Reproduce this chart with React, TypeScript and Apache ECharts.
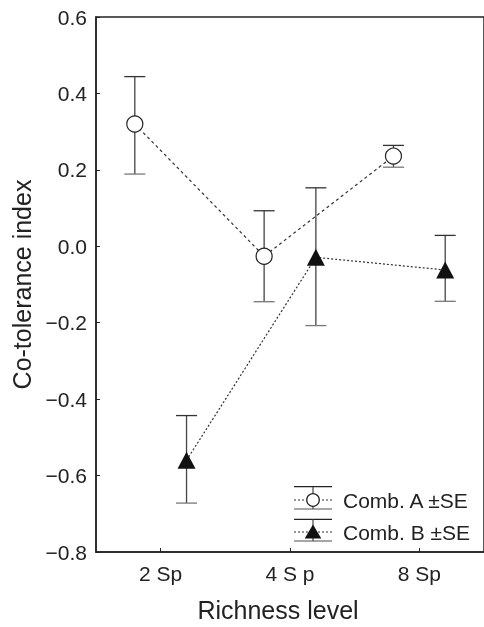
import React, { useEffect, useRef } from "react";
import * as echarts from "echarts";

const categories = ["2 Sp", "4 S p", "8 Sp"];
const combAMean = [0.32, -0.026, 0.236];
const combALow = [0.189, -0.145, 0.207];
const combAHigh = [0.444, 0.093, 0.264];
const combBMean = [-0.56, -0.029, -0.062];
const combBLow = [-0.672, -0.2075, -0.144];
const combBHigh = [-0.443, 0.153, 0.0285];
const yMin = -0.8;
const yMax = 0.6;
const yStep = 0.2;
const offsetA = -0.2;
const offsetB = 0.2;

const FONT = "Liberation Sans, Arial, Helvetica, sans-serif";

export default function App() {
  const ref = useRef<HTMLDivElement>(null);
  useEffect(() => {
    if (!ref.current) return;
    const chart = echarts.init(ref.current, undefined, { renderer: "svg" });
    const ptsA = combAMean.map((v, i) => [i + offsetA, v]);
    const ptsB = combBMean.map((v, i) => [i + offsetB, v]);
    const errA = combAMean.map((_, i) => [i + offsetA, combALow[i], combAHigh[i]]);
    const errB = combBMean.map((_, i) => [i + offsetB, combBLow[i], combBHigh[i]]);
    const capHalf = 10.5;
    const renderErr = (params: any, api: any) => {
      const x = api.value(0);
      const lo = api.coord([x, api.value(1)]);
      const hi = api.coord([x, api.value(2)]);
      return {
        type: "group",
        children: [
          { type: "line", shape: { x1: lo[0], y1: lo[1], x2: hi[0], y2: hi[1] }, style: { stroke: "#444", lineWidth: 1.3 } },
          { type: "line", shape: { x1: hi[0] - capHalf, y1: hi[1], x2: hi[0] + capHalf, y2: hi[1] }, style: { stroke: "#333", lineWidth: 1.3 } },
          { type: "line", shape: { x1: lo[0] - capHalf, y1: lo[1], x2: lo[0] + capHalf, y2: lo[1] }, style: { stroke: "#777", lineWidth: 1.3 } },
        ],
      };
    };
    const lx1 = 294, lx2 = 332, lcx = 313;
    const legendA = 500, legendB = 532;
    chart.setOption({
      animation: false,
      grid: { left: 96, top: 17, width: 392, height: 540, show: true, borderColor: "#222", borderWidth: 1.5, backgroundColor: "transparent" },
      xAxis: [
        {
          type: "category",
          data: categories,
          boundaryGap: true,
          axisLine: { show: true, onZero: false, lineStyle: { color: "#222", width: 1.5 } },
          axisTick: { show: true, inside: true, alignWithLabel: true, length: 4, lineStyle: { color: "#222" } },
          axisLabel: { fontSize: 21, color: "#222", margin: 11, fontFamily: FONT },
          splitLine: { show: false },
          name: "Richness level",
          nameLocation: "middle",
          nameGap: 45,
          nameTextStyle: { fontSize: 25, color: "#222", fontFamily: FONT, padding: [0, 24, 0, 0] },
        },
        { type: "value", min: -0.5, max: 2.5, show: false, axisLine: { show: false, onZero: false }, splitLine: { show: false } },
      ],
      yAxis: {
        type: "value",
        min: yMin,
        max: yMax,
        interval: yStep,
        axisLine: { show: true, onZero: false, lineStyle: { color: "#222", width: 1.5 } },
        axisTick: { show: true, inside: true, length: 4, lineStyle: { color: "#222" } },
        axisLabel: {
          fontSize: 21,
          color: "#222",
          margin: 9,
          fontFamily: FONT,
          formatter: (v: number) => (v < -1e-9 ? "\u2212" : "") + Math.abs(v).toFixed(1),
        },
        splitLine: { show: false },
        name: "Co-tolerance index",
        nameLocation: "middle",
        nameGap: 60,
        nameTextStyle: { fontSize: 25, color: "#222", fontFamily: FONT },
      },
      series: [
        { type: "custom", name: "errA", xAxisIndex: 1, data: errA, renderItem: renderErr, z: 1 },
        { type: "custom", name: "errB", xAxisIndex: 1, data: errB, renderItem: renderErr, z: 1 },
        {
          type: "line",
          name: "Comb. A ±SE",
          xAxisIndex: 1,
          data: ptsA,
          symbol: "circle",
          symbolSize: 16,
          lineStyle: { color: "#333", width: 1.2, type: [3, 3] },
          itemStyle: { color: "#fff", borderColor: "#222", borderWidth: 1.2 },
          z: 3,
        },
        {
          type: "line",
          name: "Comb. B ±SE",
          xAxisIndex: 1,
          data: ptsB,
          symbol: "triangle",
          symbolSize: [18, 17],
          lineStyle: { color: "#333", width: 1.2, type: [2, 2] },
          itemStyle: { color: "#111", borderColor: "#111", borderWidth: 0 },
          z: 4,
        },
      ],
      graphic: [
        { type: "line", shape: { x1: lx1, y1: 486.7, x2: lx2, y2: 486.7 }, style: { stroke: "#222", lineWidth: 1.3 } },
        { type: "line", shape: { x1: lx1, y1: 509, x2: lx2, y2: 509 }, style: { stroke: "#888", lineWidth: 1.3 } },
        { type: "line", shape: { x1: lcx, y1: 486.7, x2: lcx, y2: 509 }, style: { stroke: "#444", lineWidth: 1.2 } },
        { type: "line", shape: { x1: lx1, y1: legendA, x2: lx2, y2: legendA }, style: { stroke: "#333", lineWidth: 1.1, lineDash: [2, 2] } },
        { type: "circle", shape: { cx: lcx, cy: legendA, r: 6.3 }, style: { fill: "#fff", stroke: "#222", lineWidth: 1.2 } },
        { type: "text", x: 343, y: legendA, style: { text: "Comb. A ±SE", fontSize: 21, fill: "#222", fontFamily: FONT, verticalAlign: "middle", align: "left" } },
        { type: "line", shape: { x1: lx1, y1: 519.3, x2: lx2, y2: 519.3 }, style: { stroke: "#222", lineWidth: 1.3 } },
        { type: "line", shape: { x1: lx1, y1: 541, x2: lx2, y2: 541 }, style: { stroke: "#888", lineWidth: 1.3 } },
        { type: "line", shape: { x1: lcx, y1: 519.3, x2: lcx, y2: 541 }, style: { stroke: "#444", lineWidth: 1.2 } },
        { type: "line", shape: { x1: lx1, y1: legendB, x2: lx2, y2: legendB }, style: { stroke: "#333", lineWidth: 1.1, lineDash: [2, 2] } },
        { type: "polygon", shape: { points: [[lcx - 8.3, 538.5], [lcx + 8.3, 538.5], [lcx, 524.5]] }, style: { fill: "#111" } },
        { type: "text", x: 343, y: legendB, style: { text: "Comb. B ±SE", fontSize: 21, fill: "#222", fontFamily: FONT, verticalAlign: "middle", align: "left" } },
      ],
    });
    return () => chart.dispose();
  }, []);
  return <div ref={ref} style={{ position: "fixed", left: 0, top: 0, width: 484, height: 627 }} />;
}
